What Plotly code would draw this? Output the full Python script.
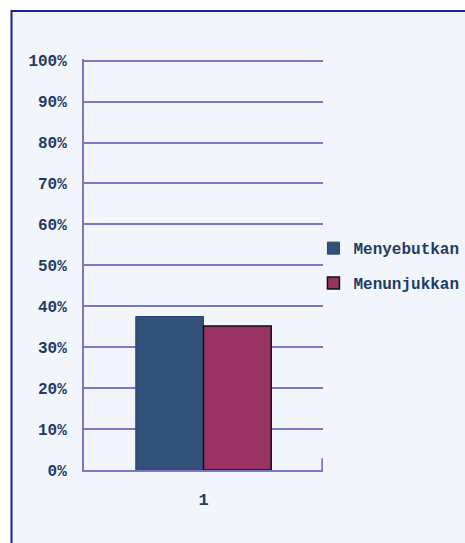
import plotly.graph_objects as go

categories = ["1"]
series_names = ["Menyebutkan", "Menunjukkan"]
menyebutkan = [37.5]
menunjukkan = [35.2]
y_ticks = [0, 10, 20, 30, 40, 50, 60, 70, 80, 90, 100]
y_tick_labels = [f"{v}%" for v in y_ticks]

TEXT = "#1E3C64"
GRID = "#7A78C4"
FONT = "Liberation Mono, DejaVu Sans Mono, monospace"

fig = go.Figure()
fig.add_trace(go.Bar(
    x=categories, y=menyebutkan, name=series_names[0], legendgroup="a",
    marker=dict(color="#32527B", line=dict(color="#2A4468", width=1)),
))
fig.add_trace(go.Bar(
    x=categories, y=menunjukkan, name=series_names[1], legendgroup="b",
    marker=dict(color="#983363", line=dict(color="#111111", width=1.5)),
))

# outer chart frame
fig.add_shape(type="rect", xref="paper", yref="paper",
              x0=-0.3033, x1=1.8, y0=-0.3, y1=1.1168,
              line=dict(color="#1E1E8C", width=2), fillcolor="#F2F5FB",
              layer="below")

# category boundary tick mark at the right end of the x axis
fig.add_shape(type="line", xref="x", yref="y",
              x0=0.5, x1=0.5, y0=0, y1=2.9,
              line=dict(color=GRID, width=2))

fig.update_layout(
    width=465, height=543,
    margin=dict(l=84, r=142, t=59, b=73, autoexpand=False),
    paper_bgcolor="white",
    plot_bgcolor="#F2F5FB",
    barmode="group",
    bargap=0.43,
    bargroupgap=0,
    font=dict(family=FONT, color=TEXT, size=15, weight="bold"),
    showlegend=True,
    legend=dict(x=0.96, y=0.497, xanchor="left", yanchor="middle",
                bgcolor="rgba(0,0,0,0)",
                font=dict(size=16, color=TEXT, weight="bold"),
                itemwidth=30, tracegroupgap=11, traceorder="grouped"),
    xaxis=dict(type="category", range=[-0.503, 0.503],
               showline=True, linecolor=GRID, linewidth=2,
               ticks="", ticklabelstandoff=13,
               showgrid=False, zeroline=False,
               tickfont=dict(size=17, weight="bold")),
    yaxis=dict(range=[0, 100.4], tickvals=y_ticks, ticktext=y_tick_labels,
               showline=True, linecolor=GRID, linewidth=2,
               showgrid=True, gridcolor=GRID, gridwidth=1.5,
               zeroline=False, ticks="", ticklabelstandoff=12,
               tickfont=dict(size=16, weight="bold")),
)

fig.write_html("out.html")
